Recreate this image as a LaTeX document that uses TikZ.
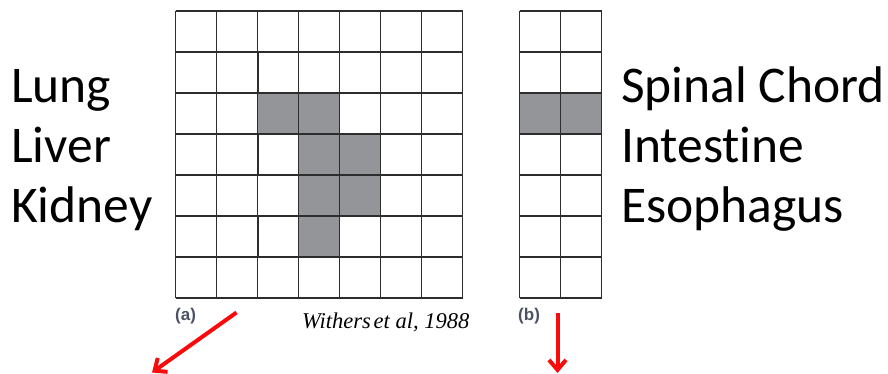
\documentclass[tikz,border=0pt]{standalone}
\usepackage{fontspec}
\setmainfont[Ligatures={NoCommon}]{Carlito}
\newfontfamily\capfont{Liberation Serif}
\newfontfamily\tagfont{Liberation Sans}
\usetikzlibrary{arrows.meta}
\definecolor{gridline}{RGB}{45,45,45}
\definecolor{shade}{RGB}{147,149,152}
\definecolor{tagcol}{RGB}{75,82,100}
\definecolor{arrowred}{RGB}{250,10,10}
\tikzset{
  organ/.style={anchor=base west, inner sep=0pt, font=\fontsize{51.5}{60}\selectfont},
  tagtext/.style={anchor=base west, inner sep=0pt, text=tagcol, font=\tagfont\bfseries\fontsize{17}{20}\selectfont},
  gridlines/.style={draw=gridline, line width=1.1pt},
  cellfill/.style={fill=shade},
  redarrow/.style={draw=arrowred, line width=4pt, -{Straight Barb[length=10pt,width=17pt,line width=4pt]}}
}
\begin{document}
\begin{tikzpicture}[x=1pt,y=-1pt]
\useasboundingbox (0,0) rectangle (888,374);
% left grid shaded cells
\foreach \c/\r in {2/2,3/2,3/3,4/3,3/4,4/4,3/5}{
  \fill[cellfill] (175.5+41*\c,11+41*\r) rectangle ++(41,41);
}
\foreach \i in {0,...,7}{
  \draw[gridlines] (175.5+41*\i,11) -- (175.5+41*\i,298);
  \draw[gridlines] (175.5,11+41*\i) -- (462.5,11+41*\i);
}
\foreach \r in {1,3,5}{
  \draw[draw=gridline, line width=2pt] (257.5,11+41*\r) -- (257.5,52+41*\r);
}
% right grid
\fill[cellfill] (519.5,93) rectangle (601.5,134);
\foreach \i in {0,1,2}{
  \draw[gridlines] (519.5+41*\i,11) -- (519.5+41*\i,298);
}
\foreach \i in {0,...,7}{
  \draw[gridlines] (519.5,11+41*\i) -- (601.5,11+41*\i);
}
% labels
\node[organ] (lung) at (11,102.5) {Lung};
\node[organ] (liver) at (11,162.5) {Liver};
\node[organ] (kidney) at (11,222.5) {Kidney};
\node[organ] (spinal) at (621,102.5) {Spinal Chord};
\node[organ] (intestine) at (621,162.5) {Intestine};
\node[organ] (esoph) at (621,222.5) {Esophagus};
\node[tagtext] (taga) at (175,320) {(a)};
\node[tagtext] (tagb) at (518,320) {(b)};
\node[anchor=base west, inner sep=0pt, font=\capfont\itshape\fontsize{22.5}{26}\selectfont] (cite) at (302,328.5) {Withers\hspace{0.12em}et al, 1988};
% arrows
\coordinate (a1) at (236.5,312.5);
\coordinate (a2) at (152,372.5);
\coordinate (b1) at (557.5,312.5);
\coordinate (b2) at (557.5,373);
\draw[redarrow] (a1) -- (a2);
\draw[redarrow] (b1) -- (b2);
\end{tikzpicture}
\end{document}
